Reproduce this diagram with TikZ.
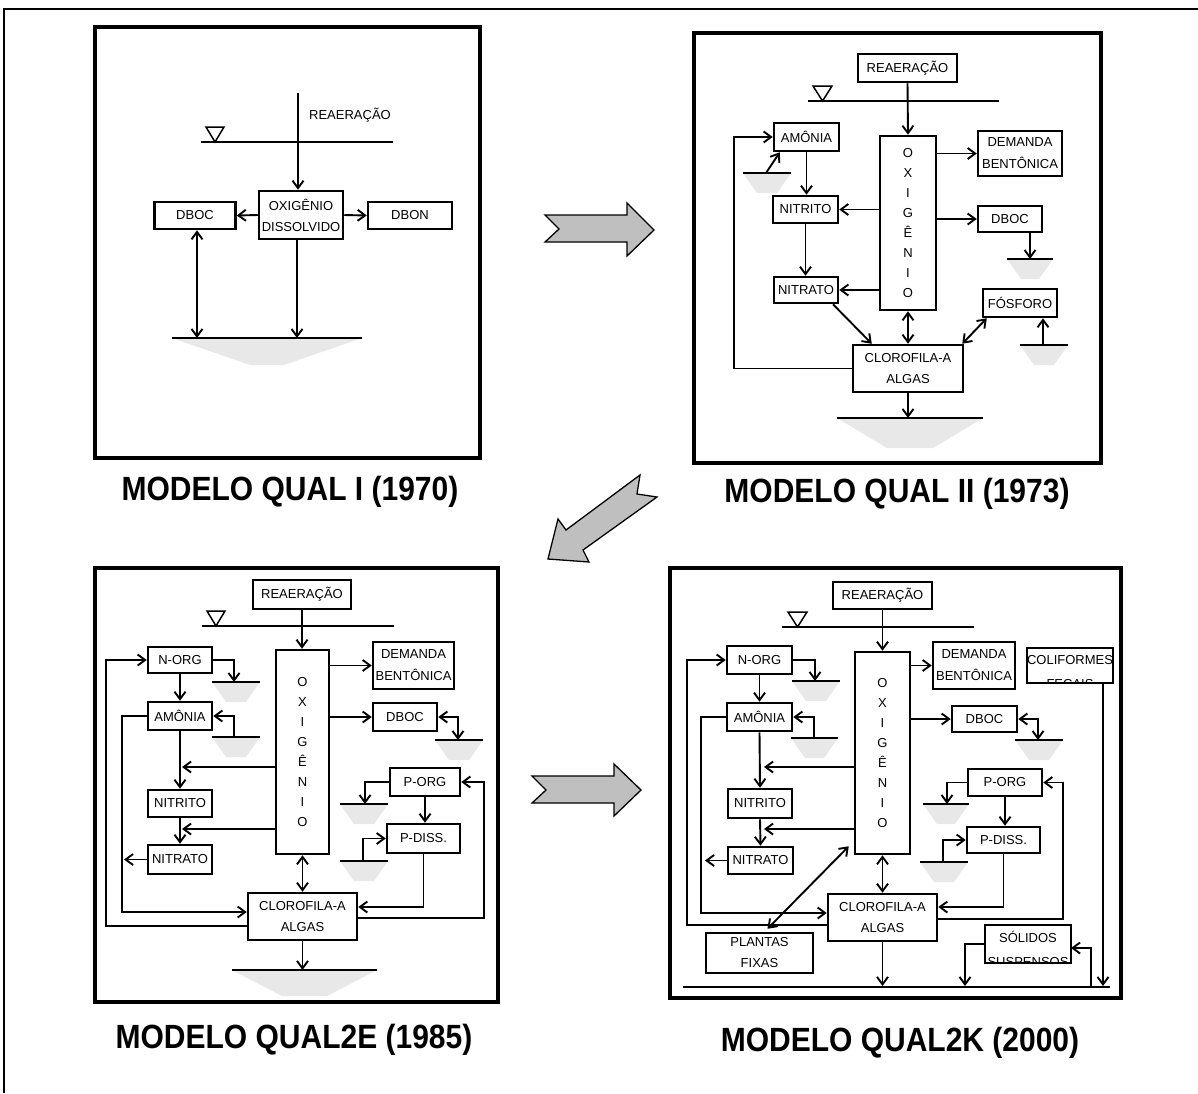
\documentclass[tikz,border=0pt]{standalone}
\usepackage{fontspec}
\usepackage{graphicx}
\setmainfont{Liberation Sans}
\usetikzlibrary{arrows.meta}

% sediment bed: grey bowl under a horizontal line
\newcommand\sedbowl[5]{% x1, x2, y, depth, inset
  \fill[black!9] (#1,#3) -- (#2,#3) -- ({#2-#5},{#3+#4}) -- ({#1+#5},{#3+#4}) -- cycle;
  \draw[surf] (#1,#3) -- (#2,#3);
}
% water surface with its triangle marker
\newcommand\watersurf[5]{% x1, x2, y, triangle left x, triangle right x
  \draw[surf] (#1,#3) -- (#2,#3);
  \draw[line width=1.5pt,line join=miter] (#4,{#3-15}) -- (#5,{#3-15}) -- ({(#4+#5)/2},#3) -- cycle;
}
\newcommand\modeltitle[1]{\scalebox{1}[1.12]{#1}}

\begin{document}
\begin{tikzpicture}[x=1pt,y=-1pt,
  >={Straight Barb[length=7.5pt,width=11pt]},
  panel/.style={draw,line width=4pt},
  box/.style={draw,line width=2.5pt,fill=white,inner sep=0pt,align=center,
    font=\fontsize{13}{21}\selectfont},
  twoline/.style={font=\fontsize{13}{22}\selectfont},
  cutbox/.style={fill=white,inner sep=0pt,outer sep=0pt},
  lbl/.style={inner sep=0pt,align=center,font=\fontsize{13}{21}\selectfont},
  vtxt/.style={font=\fontsize{13}{20.1}\selectfont},
  con/.style={line width=1.9pt},
  surf/.style={line width=2pt},
  title/.style={font=\fontsize{30}{36}\selectfont\bfseries},
  bigarrow/.style={draw,line width=1.3pt,fill=black!25,line join=miter},
]
\useasboundingbox (0,0) rectangle (1198,1093);
\fill[white] (0,0) rectangle (1198,1093);

% outer frame
\draw[line width=2.5pt] (4,1093) -- (4,9) -- (1198,9);

% ---------------- QUAL I ----------------
\draw[panel] (95,27) rectangle (480,458);
\coordinate (r1top) at (298,93);
\node[lbl] (r1lbl) at (350,115) {REAERAÇÃO};
\watersurf{201}{393}{142}{206}{224}
\node[box,minimum width=84,minimum height=48] (o1) at (301,215) {OXIGÊNIO\\DISSOLVIDO};
\node[box,minimum width=81,minimum height=27] (dboc1) at (195,215.5) {DBOC};
\node[box,minimum width=84,minimum height=27] (dbon1) at (410,215.5) {DBON};
\sedbowl{172}{362}{338}{27}{78}
\coordinate (bed1a) at (197,338);
\coordinate (bed1b) at (297,338);
\draw[con,->] (r1top) -- (r1top |- o1.north);
\draw[con,->] (o1.west) -- (dboc1.east);
\draw[con,->] (o1.east) -- (dbon1.west);
\draw[con,<->] (dboc1.south -| bed1a) -- (bed1a);
\draw[con,->] (o1.south -| bed1b) -- (bed1b);
\node[title] (t1) at (290,492) {\modeltitle{MODELO QUAL I (1970)}};

% ---------------- QUAL II ----------------
\draw[panel] (694,33) rectangle (1101,463);
\node[box,minimum width=99,minimum height=28] (rea2) at (907.5,68) {REAERAÇÃO};
\watersurf{808}{999}{101}{813}{832}
\node[box,vtxt,minimum width=56,minimum height=174] (oxy2) at (908,223) {O\\X\\I\\G\\Ê\\N\\I\\O};
\node[box,minimum width=65,minimum height=28] (amo2) at (806.5,137) {AMÔNIA};
\node[box,minimum width=65,minimum height=27] (nit2) at (805.5,209.5) {NITRITO};
\node[box,minimum width=64,minimum height=26] (nat2) at (806,290) {NITRATO};
\node[box,twoline,minimum width=84,minimum height=45] (dem2) at (1020,153.5) {DEMANDA\\BENTÔNICA};
\node[box,minimum width=64,minimum height=26] (dboc2) at (1010,219) {DBOC};
\node[box,minimum width=74,minimum height=28] (fos2) at (1020,303) {FÓSFORO};
\node[box,minimum width=110,minimum height=47] (clo2) at (908,368.5) {CLOROFILA-A\\ALGAS};
\sedbowl{743}{791}{173}{20}{14}
\sedbowl{1007}{1053}{259}{20}{14}
\sedbowl{1020}{1068}{345}{20}{14}
\sedbowl{837}{983}{418}{30}{50}
\coordinate (s2a) at (766,173);
\coordinate (s2b) at (1030,259);
\coordinate (s2c) at (1043,345);
\coordinate (bed2) at (908,418);
\coordinate (l2) at (734,137);
\draw[con,->] (rea2.south) -- (oxy2.north);
\draw[con,->] (oxy2.east |- dem2.west) -- (dem2.west);
\draw[con,->] (oxy2.east |- dboc2.west) -- (dboc2.west);
\draw[con,->] (oxy2.west |- nit2.east) -- (nit2.east);
\draw[con,->] (oxy2.west |- nat2.east) -- (nat2.east);
\draw[con,->] (amo2.south) -- (amo2.south |- nit2.north);
\draw[con,->] (nit2.south) -- (nit2.south |- nat2.north);
\draw[con,->] (clo2.west) -| (l2) -- (amo2.west);
\draw[con,->] (s2a) -- ([xshift=7pt]amo2.south west);
\draw[con,->] ([xshift=20pt]dboc2.south) -- (s2b);
\draw[con,->] (s2c) -- (s2c |- fos2.south);
\draw[con,->] ([xshift=27pt]nat2.south) -- ([xshift=20pt]clo2.north west);
\draw[con,<->] (oxy2.south) -- (clo2.north);
\draw[con,<->] ([xshift=-2pt]clo2.north east) -- ([xshift=5pt]fos2.south west);
\draw[con,->] (clo2.south) -- (bed2);
\node[title] (t2) at (897,494) {\modeltitle{MODELO QUAL II (1973)}};

% ---------------- QUAL2E ----------------
\draw[panel] (95,568) rectangle (498,1002);
\node[box,minimum width=98,minimum height=29] (rea3) at (302,594.5) {REAERAÇÃO};
\watersurf{202}{394}{626}{207}{225}
\node[box,vtxt,minimum width=53,minimum height=204] (oxy3) at (302.5,752) {O\\X\\I\\G\\Ê\\N\\I\\O};
\node[box,minimum width=64,minimum height=26] (norg3) at (180,660) {N-ORG};
\node[box,minimum width=64,minimum height=28] (amo3) at (180,716) {AMÔNIA};
\node[box,minimum width=64,minimum height=27] (nit3) at (180,803.5) {NITRITO};
\node[box,minimum width=64,minimum height=29] (nat3) at (180,859.5) {NITRATO};
\node[box,twoline,minimum width=81,minimum height=47] (dem3) at (413.5,665.5) {DEMANDA\\BENTÔNICA};
\node[box,minimum width=64,minimum height=28] (dboc3) at (405,717) {DBOC};
\node[box,minimum width=70,minimum height=28] (porg3) at (425,782) {P-ORG};
\node[box,minimum width=73,minimum height=29] (pdis3) at (423.5,838.5) {P-DISS.};
\node[box,minimum width=109,minimum height=47] (clo3) at (302.5,916.5) {CLOROFILA-A\\ALGAS};
\sedbowl{212}{260}{682}{20}{14}
\sedbowl{212}{260}{737}{20}{14}
\sedbowl{435}{483}{740}{20}{14}
\sedbowl{340}{388}{804}{20}{14}
\sedbowl{340}{388}{861}{20}{14}
\sedbowl{232}{377}{970}{26}{50}
\coordinate (s3a) at (234,682);
\coordinate (s3b) at (234,737);
\coordinate (s3c) at (458,740);
\coordinate (s3d) at (365,804);
\coordinate (s3e) at (363,861);
\coordinate (bed3) at (302.5,970);
\coordinate (m3a) at (182,767);
\coordinate (m3b) at (182,829);
\coordinate (m3c) at (124,859.5);
\coordinate (k3a) at (122,912);
\coordinate (k3b) at (106,926);
\coordinate (k3c) at (484,850);
\draw[con,->] (rea3.south) -- (rea3.south |- oxy3.north);
\draw[con,->] (norg3.south) -- (amo3.north);
\draw[con,->] (amo3.south) -- (nit3.north);
\draw[con,->] (nit3.south) -- (nat3.north);
\draw[con,->] (oxy3.west |- m3a) -- (m3a);
\draw[con,->] (oxy3.west |- m3b) -- (m3b);
\draw[con,->] (norg3.east) -| (s3a);
\draw[con,->] (s3b) |- (amo3.east);
\draw[con,->] (amo3.west) -| (k3a) -- (clo3.west |- k3a);
\draw[con,->] (nat3.west) -- (m3c);
\draw[con,->] (clo3.west |- k3b) -- (k3b) |- (norg3.west);
\draw[con,->] (oxy3.east |- dem3.west) -- (dem3.west);
\draw[con,->] (oxy3.east |- dboc3.west) -- (dboc3.west);
\draw[con,<->] (dboc3.east) -| (s3c);
\draw[con,->] (porg3.west) -| (s3d);
\draw[con,->] (porg3.south) -- (porg3.south |- pdis3.north);
\draw[con,->] (s3e) |- (pdis3.west);
\draw[con,->] (pdis3.south) |- (clo3.east |- 0,907);
\draw[con,->] (clo3.east |- 0,918) -| (k3c) |- (porg3.east);
\draw[con,<->] (oxy3.south) -- (clo3.north);
\draw[con,->] (clo3.south) -- (bed3);
\node[title] (t3) at (294,1040) {\modeltitle{MODELO QUAL2E (1985)}};

% ---------------- QUAL2K ----------------
\draw[panel] (670,568) rectangle (1121,998);
\node[box,minimum width=99,minimum height=27] (rea4) at (882.5,595.5) {REAERAÇÃO};
\watersurf{782}{974}{627}{788}{807}
\node[box,vtxt,minimum width=55,minimum height=202] (oxy4) at (882.5,753) {O\\X\\I\\G\\Ê\\N\\I\\O};
\node[box,minimum width=65,minimum height=28] (norg4) at (759.5,660) {N-ORG};
\node[box,minimum width=65,minimum height=28] (amo4) at (759.5,717) {AMÔNIA};
\node[box,minimum width=64,minimum height=29] (nit4) at (760,803.5) {NITRITO};
\node[box,minimum width=65,minimum height=27] (nat4) at (760.5,860.5) {NITRATO};
\node[box,twoline,minimum width=82,minimum height=47] (dem4) at (974,665.5) {DEMANDA\\BENTÔNICA};
% boxes whose second text line is cut by the lower border
\node[cutbox,minimum width=86,minimum height=35] (coli4) at (1070,665.5) {};
\begin{scope}
  \clip (coli4.south west) rectangle (coli4.north east);
  \node[lbl] (coli4a) at (1070,660) {COLIFORMES};
  \node[lbl] (coli4b) at (1070,684) {FECAIS};
\end{scope}
\draw[line width=2.5pt] (coli4.south west) rectangle (coli4.north east);
\node[box,minimum width=65,minimum height=26] (dboc4) at (984.5,719) {DBOC};
\node[box,minimum width=74,minimum height=27] (porg4) at (1005,782.5) {P-ORG};
\node[box,minimum width=73,minimum height=26] (pdis4) at (1003.5,840) {P-DISS.};
\node[box,minimum width=109,minimum height=47] (clo4) at (882.5,917.5) {CLOROFILA-A\\ALGAS};
\node[box,minimum width=107,minimum height=40] (plan4) at (759.5,953) {PLANTAS\\FIXAS};
\node[cutbox,minimum width=86,minimum height=38] (sol4) at (1028,944) {};
\begin{scope}
  \clip (sol4.south west) rectangle (sol4.north east);
  \node[lbl] (sol4a) at (1028,937) {SÓLIDOS};
  \node[lbl] (sol4b) at (1028,962) {SUSPENSOS};
\end{scope}
\draw[line width=2.5pt] (sol4.south west) rectangle (sol4.north east);
\draw[line width=2.5pt] (683,987) -- (1110,987);
\sedbowl{792}{840}{681}{20}{14}
\sedbowl{791}{838}{738}{20}{14}
\sedbowl{1015}{1063}{740}{20}{14}
\sedbowl{923}{969}{804}{20}{14}
\sedbowl{920}{968}{862}{20}{14}
\coordinate (s4a) at (815,681);
\coordinate (s4b) at (814,738);
\coordinate (s4c) at (1038,740);
\coordinate (s4d) at (947,804);
\coordinate (s4e) at (943,862);
\coordinate (m4a) at (764,767);
\coordinate (m4b) at (764,829);
\coordinate (m4c) at (705,860.5);
\coordinate (k4a) at (701,913);
\coordinate (k4b) at (687,925);
\coordinate (k4c) at (1063,850);
\coordinate (bed4) at (882.5,986);
\coordinate (k4d) at (965,986);
\coordinate (k4e) at (1091,986);
\coordinate (k4f) at (1103,986);
\draw[con,->] (rea4.south) -- (oxy4.north);
\draw[con,->] (norg4.south) -- (amo4.north);
\draw[con,->] (amo4.south) -- (nit4.north);
\draw[con,->] (nit4.south) -- (nat4.north);
\draw[con,->] (oxy4.west |- m4a) -- (m4a);
\draw[con,->] (oxy4.west |- m4b) -- (m4b);
\draw[con,->] (norg4.east) -| (s4a);
\draw[con,->] (s4b) |- (amo4.east);
\draw[con,->] (amo4.west) -| (k4a) -- (clo4.west |- k4a);
\draw[con,->] (nat4.west) -- (m4c);
\draw[con,->] (clo4.west |- k4b) -- (k4b) |- (norg4.west);
\draw[con,->] (oxy4.east |- dem4.west) -- (dem4.west);
\draw[con,->] (oxy4.east |- dboc4.west) -- (dboc4.west);
\draw[con,<->] (dboc4.east) -| (s4c);
\draw[con,->] (porg4.west) -| (s4d);
\draw[con,->] (porg4.south) -- (porg4.south |- pdis4.north);
\draw[con,->] (s4e) |- (pdis4.west);
\draw[con,->] (pdis4.south) |- (clo4.east |- 0,907);
\draw[con,->] (clo4.east |- 0,919) -| (k4c) |- (porg4.east);
\draw[con,<->] (oxy4.south) -- (clo4.north);
\draw[con,<->] ([shift={(-5,-9)}]oxy4.south west) -- ([shift={(8,-3)}]plan4.north);
\draw[con,->] (clo4.south) -- (bed4);
\draw[con,->] (sol4.west) -| (k4d);
\draw[con,->] (k4e) |- (sol4.east |- 0,948);
\draw[con,->] (coli4.south -| k4f) -- (k4f);
\node[title] (t4) at (900,1043) {\modeltitle{MODELO QUAL2K (2000)}};

% ---------------- block arrows between panels ----------------
\draw[bigarrow] (545,215) -- (627,215) -- (627,203) -- (654,230) -- (627,256)
  -- (627,242) -- (545,242) -- (559,229) -- cycle;
\draw[bigarrow] (548,559) -- (558,519) -- (566,530) -- (640,475) -- (637,494)
  -- (657,497) -- (583,550) -- (589,562) -- cycle;
\draw[bigarrow] (532,776) -- (614,776) -- (614,764) -- (641,790) -- (614,816)
  -- (614,803) -- (532,803) -- (546,790) -- cycle;
\end{tikzpicture}
\end{document}
